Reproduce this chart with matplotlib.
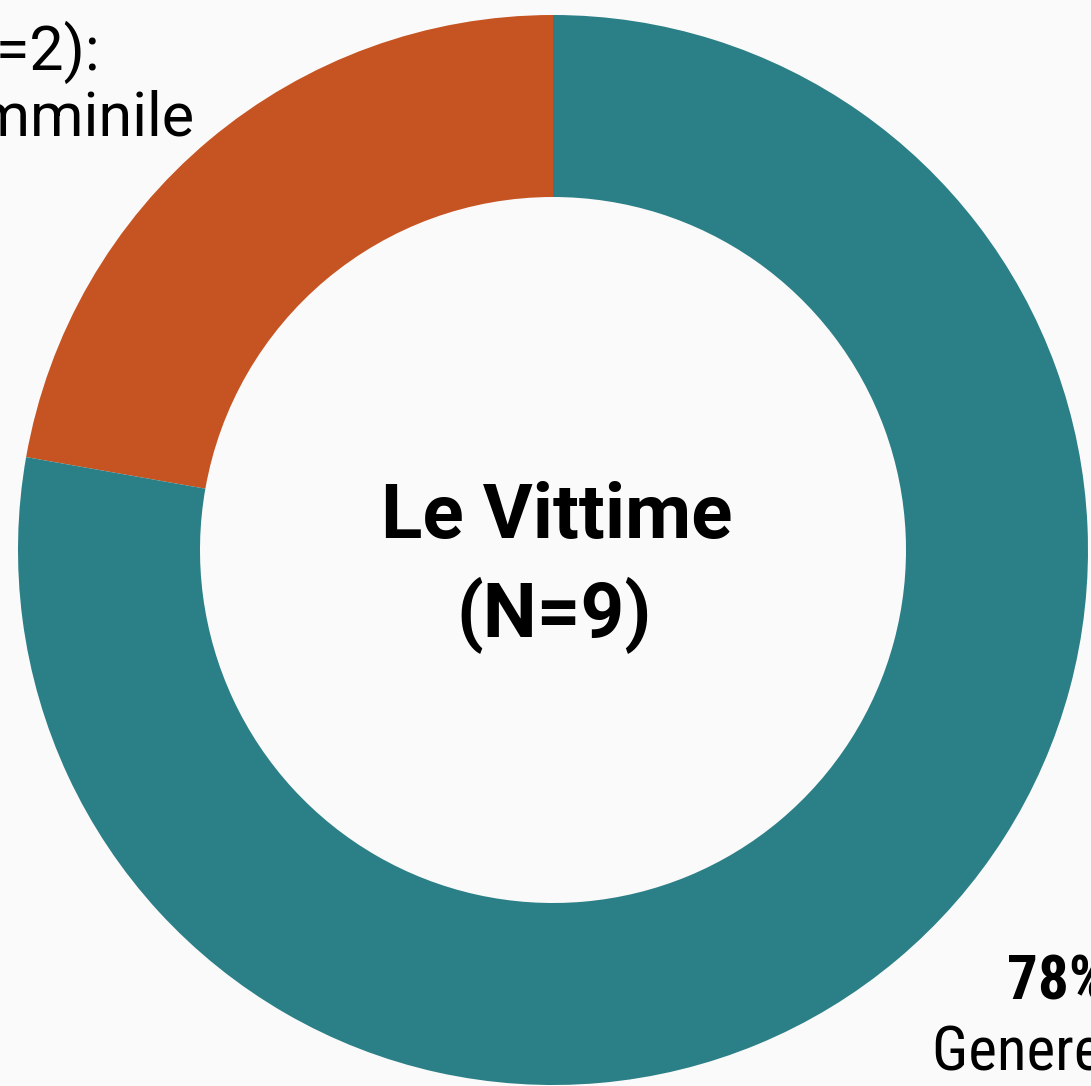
import numpy as np
import matplotlib
from matplotlib import pyplot as plt

matplotlib.rcParams.update({
    'font.family': ['Roboto', 'DejaVu Sans'],
    'figure.dpi': 100,
})

# data
categories = ["Genere Femminile", "Genere Maschile"]
counts = [2, 7]
colors = ["#C65422", "#2B7F86"]
total = sum(counts)
pcts = [round(100 * c / total) for c in counts]

W, H = 1091, 1086
fig = plt.figure(figsize=(W / 100, H / 100), facecolor="#FAFAFA")
ax = fig.add_axes([0, 0, 1, 1])

cx, cy = 553, H - 550
R = 535
ax.pie(counts, colors=colors, startangle=90, counterclock=True,
       center=(cx, cy), radius=R, frame=True,
       wedgeprops=dict(width=182, linewidth=0))
ax.set_xlim(0, W)
ax.set_ylim(0, H)
ax.set_aspect("equal")
ax.axis("off")

# centre title
ax.text(cx + 4, H - 538, "Le Vittime", fontsize=55, fontweight="bold",
        ha="center", va="baseline")
ax.text(cx + 1, H - 637, "(N=%d)" % total, fontsize=55, fontweight="bold",
        ha="center", va="baseline")

# top-left label (Femminile), cut by the frame
ax.text(100, H - 70, "%d%% (N=%d):" % (pcts[0], counts[0]), fontsize=44,
        ha="right", va="baseline")
ax.text(194, H - 136, categories[0], fontsize=44,
        ha="right", va="baseline")

# bottom-right label (Maschile), cut by the frame
narrow = ['Roboto Condensed', 'Liberation Sans Narrow', 'Roboto']
ax.text(1007, H - 1000, "%d%%" % pcts[1], fontsize=44, fontweight="bold",
        family=narrow, ha="left", va="baseline")
ax.text(932, H - 1070, categories[1], fontsize=44, family=narrow,
        ha="left", va="baseline")

plt.savefig("out.png", dpi=100, facecolor=fig.get_facecolor())
